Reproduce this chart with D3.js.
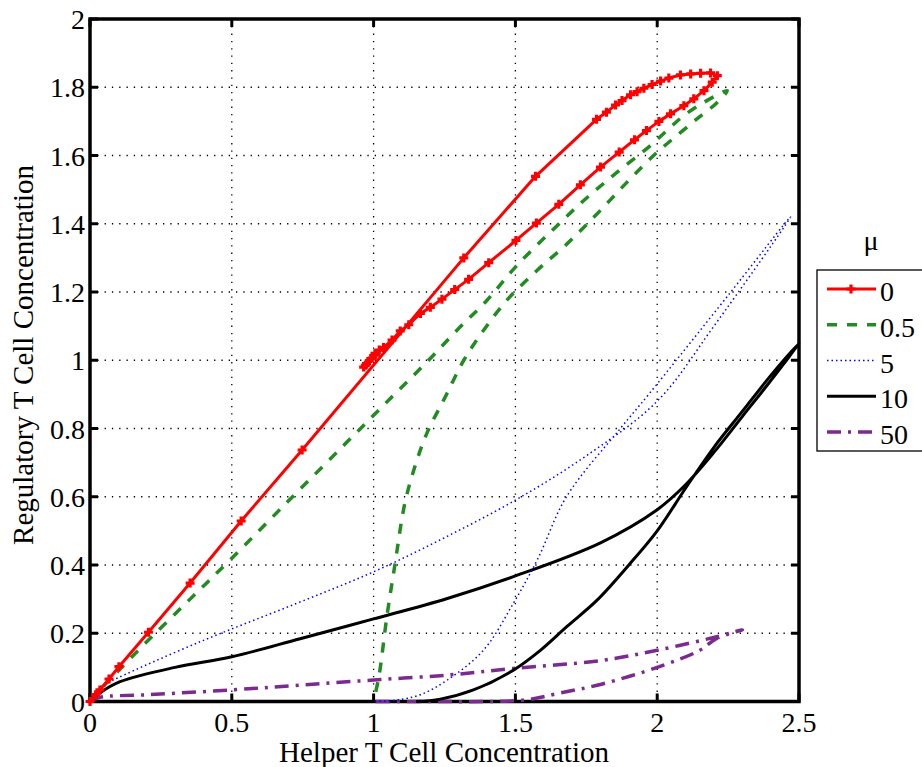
<!DOCTYPE html>
<html>
<head>
<meta charset="utf-8">
<script src="https://cdn.jsdelivr.net/npm/d3@7"></script>
<style>
  body { margin: 0; background: #fff; }
  svg { display: block; font-family: "Liberation Serif", "DejaVu Serif", serif; }
</style>
</head>
<body>
<svg id="chart" width="922" height="767"></svg>
<script>
// mu values and their series (helper T, regulatory T)
var muLabels = ["0", "0.5", "5", "10", "50"];

var redX = [0, 0.02, 0.035, 0.067, 0.102, 0.206, 0.353, 0.533, 0.748, 1.318, 1.571, 1.786, 1.821, 1.853, 1.876, 1.906, 1.929, 1.953, 1.982, 2.012, 2.041, 2.082, 2.118, 2.153, 2.188, 2.212, 2.194, 2.165, 2.129, 2.094, 2.047, 2.006, 1.962, 1.92, 1.866, 1.80, 1.729, 1.653, 1.574, 1.502, 1.406, 1.335, 1.286, 1.241, 1.20, 1.165, 1.124, 1.094, 1.065, 1.035, 1.006, 0.985, 0.971, 0.965, 0.975, 0.99, 1.005, 1.02];
var redY = [0, 0.02, 0.034, 0.066, 0.102, 0.203, 0.347, 0.529, 0.737, 1.30, 1.539, 1.706, 1.727, 1.748, 1.761, 1.778, 1.787, 1.797, 1.808, 1.818, 1.827, 1.836, 1.839, 1.841, 1.842, 1.834, 1.815, 1.79, 1.766, 1.746, 1.722, 1.70, 1.673, 1.646, 1.61, 1.566, 1.514, 1.457, 1.402, 1.351, 1.286, 1.237, 1.207, 1.179, 1.155, 1.137, 1.104, 1.086, 1.059, 1.037, 1.015, 0.998, 0.985, 0.98, 0.99, 1.005, 1.02, 1.03];

var greenX = [0, 0.05, 0.1, 0.2, 0.353, 0.5, 0.7, 0.9, 1.059, 1.188, 1.294, 1.40, 1.50, 1.624, 1.741, 1.859, 1.976, 2.047, 2.094, 2.165, 2.247, 2.206, 2.147, 2.076, 1.994, 1.894, 1.788, 1.682, 1.576, 1.47, 1.388, 1.318, 1.253, 1.19, 1.15, 1.11, 1.075, 1.047, 1.02, 1.0];
var greenY = [0, 0.047, 0.09, 0.175, 0.30, 0.42, 0.588, 0.755, 0.888, 0.995, 1.088, 1.176, 1.273, 1.376, 1.468, 1.551, 1.629, 1.683, 1.717, 1.756, 1.79, 1.751, 1.712, 1.663, 1.605, 1.522, 1.429, 1.341, 1.263, 1.176, 1.088, 1.0, 0.893, 0.79, 0.70, 0.58, 0.40, 0.25, 0.08, 0];

var blueX = [0, 0.04, 0.1, 0.388, 0.73, 1.0, 1.25, 1.5, 1.75, 2.0, 2.2, 2.47, 2.25, 1.97, 1.87, 1.68, 1.58, 1.493, 1.387, 1.26, 1.165, 1.08, 1.0];
var blueY = [0, 0.045, 0.07, 0.175, 0.288, 0.38, 0.48, 0.59, 0.72, 0.88, 1.1, 1.42, 1.19, 0.9, 0.8, 0.6, 0.42, 0.288, 0.15, 0.063, 0.02, 0.004, 0];

var blackX = [0, 0.035, 0.106, 0.3, 0.5, 0.741, 1.0, 1.26, 1.5, 1.8, 2.0, 2.1, 2.2, 2.3, 2.4, 2.5, 2.4, 2.3, 2.2, 2.1, 2.0, 1.9, 1.788, 1.682, 1.588, 1.493, 1.352, 1.235, 1.15];
var blackY = [0, 0.025, 0.058, 0.1, 0.131, 0.184, 0.242, 0.302, 0.368, 0.465, 0.562, 0.635, 0.73, 0.835, 0.94, 1.05, 0.955, 0.85, 0.745, 0.625, 0.50, 0.40, 0.297, 0.22, 0.15, 0.092, 0.034, 0.007, 0];

var purpleX = [0, 0.035, 0.21, 0.5, 0.741, 1.0, 1.27, 1.493, 1.8, 2.0, 2.21, 2.3, 2.21, 2.15, 2.0, 1.8, 1.658, 1.54, 1.4, 1.2, 1.0];
var purpleY = [0, 0.012, 0.02, 0.034, 0.048, 0.063, 0.078, 0.097, 0.12, 0.15, 0.19, 0.21, 0.185, 0.15, 0.1, 0.05, 0.025, 0.005, 0, 0, 0];

var xTicks = [0, 0.5, 1, 1.5, 2, 2.5];
var yTicks = [0, 0.2, 0.4, 0.6, 0.8, 1, 1.2, 1.4, 1.6, 1.8, 2];

var mL = 90, mR = 799, mT = 19, mB = 701.5;

var svg = d3.select("#chart");

var x = d3.scaleLinear().domain([0, 2.5]).range([mL, mR]);
var y = d3.scaleLinear().domain([0, 2]).range([mB, mT]);

// grid
svg.append("g").selectAll("line")
    .data(xTicks.slice(1, -1)).enter().append("line")
    .attr("x1", function(d) { return x(d); }).attr("x2", function(d) { return x(d); })
    .attr("y1", mT).attr("y2", mB)
    .attr("stroke", "#000").attr("stroke-width", 1.3).attr("stroke-dasharray", "1.3,6");
svg.append("g").selectAll("line")
    .data(yTicks.slice(1, -1)).enter().append("line")
    .attr("y1", function(d) { return y(d); }).attr("y2", function(d) { return y(d); })
    .attr("x1", mL).attr("x2", mR)
    .attr("stroke", "#000").attr("stroke-width", 1.3).attr("stroke-dasharray", "1.3,6");

// frame (curves get drawn on top of it)
svg.append("rect")
    .attr("x", mL).attr("y", mT)
    .attr("width", mR - mL).attr("height", mB - mT)
    .attr("fill", "none").attr("stroke", "#000").attr("stroke-width", 3.5);

// inner ticks on all sides
var tk = svg.append("g").attr("stroke", "#000").attr("stroke-width", 3);
xTicks.forEach(function(d) {
  tk.append("line").attr("x1", x(d)).attr("x2", x(d)).attr("y1", mB).attr("y2", mB - 8);
  tk.append("line").attr("x1", x(d)).attr("x2", x(d)).attr("y1", mT).attr("y2", mT + 8);
});
yTicks.forEach(function(d) {
  tk.append("line").attr("y1", y(d)).attr("y2", y(d)).attr("x1", mL).attr("x2", mL + 8);
  tk.append("line").attr("y1", y(d)).attr("y2", y(d)).attr("x1", mR).attr("x2", mR - 8);
});

// curves
var series = [
  { xs: redX, ys: redY, color: "#ff0000", width: 3, dash: null, curve: d3.curveLinear },
  { xs: greenX, ys: greenY, color: "#228b22", width: 3.5, dash: "10,10", curve: d3.curveCatmullRom },
  { xs: blueX, ys: blueY, color: "#0000ff", width: 1.5, dash: "1.5,3", curve: d3.curveCatmullRom },
  { xs: blackX, ys: blackY, color: "#000000", width: 3, dash: null, curve: d3.curveCatmullRom },
  { xs: purpleX, ys: purpleY, color: "#7b2a8f", width: 3.5, dash: "14,7,3,7", curve: d3.curveCatmullRom }
];

var plot = svg.append("g");
series.slice().reverse().forEach(function(s) {
  var pts = s.xs.map(function(v, i) { return [v, s.ys[i]]; });
  plot.append("path")
      .datum(pts)
      .attr("fill", "none")
      .attr("stroke", s.color)
      .attr("stroke-width", s.width)
      .attr("stroke-dasharray", s.dash)
      .attr("stroke-linejoin", "round")
      .attr("d", d3.line().curve(s.curve)
        .x(function(d) { return x(d[0]); })
        .y(function(d) { return y(d[1]); }));
});

// red plus markers
var plus = "M-4.5,0H4.5M0,-4.5V4.5";
plot.append("g").selectAll("path")
    .data(redX.map(function(v, i) { return [v, redY[i]]; })).enter().append("path")
    .attr("transform", function(d) { return "translate(" + x(d[0]) + "," + y(d[1]) + ")"; })
    .attr("d", plus)
    .attr("stroke", "#ff0000").attr("stroke-width", 3.2).attr("fill", "none");

// tick labels
svg.append("g").selectAll("text")
    .data(xTicks).enter().append("text")
    .attr("x", function(d) { return x(d); })
    .attr("y", 732)
    .attr("text-anchor", "middle")
    .attr("font-size", 28)
    .text(function(d) { return d; });
svg.append("g").selectAll("text")
    .data(yTicks).enter().append("text")
    .attr("x", 85)
    .attr("y", function(d) { return y(d) + 10; })
    .attr("text-anchor", "end")
    .attr("font-size", 28)
    .text(function(d) { return d; });

// axis titles
svg.append("text")
    .attr("x", 444).attr("y", 762)
    .attr("text-anchor", "middle")
    .attr("font-size", 29)
    .text("Helper T Cell Concentration");
svg.append("text")
    .attr("transform", "translate(33,355) rotate(-90)")
    .attr("text-anchor", "middle")
    .attr("font-size", 29)
    .text("Regulatory T Cell Concentration");

// legend
var lg = svg.append("g");
lg.append("text").attr("x", 871).attr("y", 250).attr("text-anchor", "middle")
    .attr("font-size", 28).text("\u03bc");
lg.append("rect").attr("x", 817).attr("y", 270).attr("width", 120).attr("height", 181)
    .attr("fill", "#fff").attr("stroke", "#000").attr("stroke-width", 1.3);
var legY = d3.scalePoint().domain(muLabels).range([289, 432]);
series.forEach(function(s, i) {
  var ly = legY(muLabels[i]);
  lg.append("line").attr("x1", 827).attr("x2", 876).attr("y1", ly).attr("y2", ly)
    .attr("stroke", s.color).attr("stroke-width", s.width).attr("stroke-dasharray", s.dash);
  if (i === 0) {
    lg.append("path").attr("transform", "translate(851," + ly + ")").attr("d", plus)
      .attr("stroke", s.color).attr("stroke-width", 3.2);
  }
  lg.append("text").attr("x", 880).attr("y", ly + 12).attr("font-size", 28).text(muLabels[i]);
});
</script>
</body>
</html>
